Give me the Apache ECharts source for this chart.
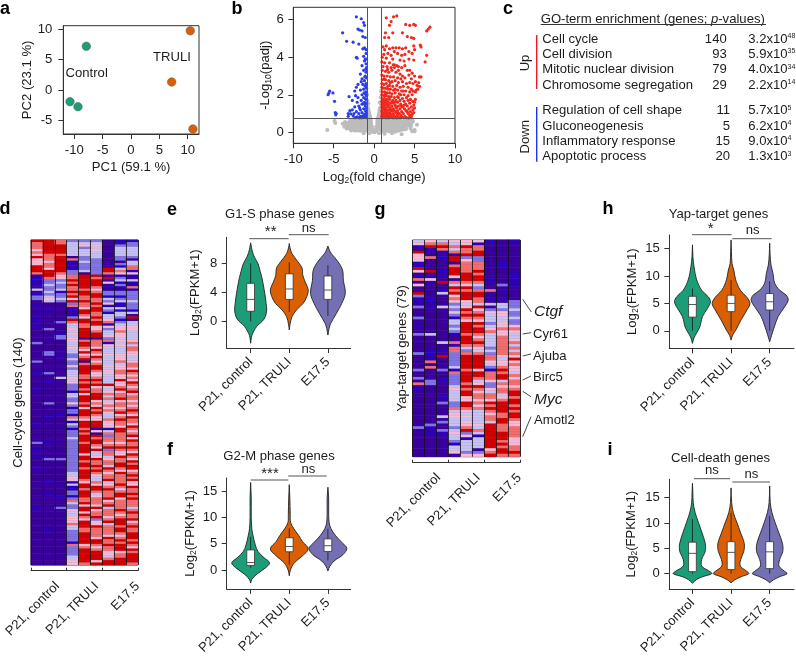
<!DOCTYPE html>
<html><head><meta charset="utf-8">
<style>html,body{margin:0;padding:0;background:#fff}#c{width:796px;height:657px}</style>
<script src="https://cdn.jsdelivr.net/npm/echarts@6/dist/echarts.min.js"></script>
</head><body><div id="c"></div>
<script>
const pcaControl=[[-7.88,7.2],[-10.76,-1.92],[-9.35,-2.75]];
const pcaTruli=[[10.46,9.77],[7.18,1.32],[10.93,-6.43]];

const volcanoUp=[[1.5,6.1],[2.4,6.15],[2.8,6.2],[2.1,5.9],[1.9,5.7],[3.9,5.75],[4.4,5.7],[4.9,5.75],[5.1,5.7],[6.9,5.6],[6.7,5.5],[6.5,5.4],[1.4,5.3],[2.3,5.3],[1.8,5.05],[1.3,5.05],[3.5,5.3],[4.1,5.1],[4.6,5.05],[4.9,5.0],[5.7,4.65],[5.8,4.55],[4.9,4.6],[5.0,4.4],[1.5,4.6],[1.1,4.55],[1.3,4.4],[1.9,4.45],[2.3,4.5],[2.7,4.5],[3.1,4.5],[3.5,4.45],[3.9,4.5],[4.3,4.3],[2.5,4.3],[1.7,4.2],[1.2,4.15],[2.1,4.1],[2.9,4.2],[3.4,4.1],[3.8,4.15],[4.7,4.2],[6.5,4.1],[6.3,3.75],[4.9,3.85],[1.0,4.0],[1.5,3.95],[2.3,3.9],[3.2,3.85],[3.7,3.8],[4.3,3.9],[0.95,3.75],[1.3,3.7],[1.9,3.7],[2.5,3.6],[2.8,3.55],[3.0,3.5],[3.4,3.45],[1.1,3.5],[1.6,3.5],[2.1,3.45],[2.5,3.45],[3.8,3.55],[4.1,3.3],[4.4,3.3],[4.7,3.15],[5.8,2.95],[5.6,2.95],[1.0,3.3],[1.4,3.25],[1.8,3.2],[2.2,3.3],[2.7,3.2],[3.2,3.1],[3.5,3.0],[4.3,3.05],[5.0,3.0],[0.95,3.05],[1.2,3.0],[1.6,3.0],[2.0,2.95],[2.4,2.95],[2.9,2.9],[3.3,2.85],[3.8,2.9],[4.6,2.85],[5.1,2.7],[5.5,2.65],[1.0,2.8],[1.4,2.8],[1.8,2.75],[2.2,2.7],[2.6,2.75],[3.0,2.65],[3.5,2.7],[4.0,2.6],[4.4,2.65],[4.8,2.6],[5.3,2.5],[5.6,2.45],[0.95,2.6],[1.2,2.55],[1.5,2.6],[1.9,2.5],[2.3,2.45],[2.8,2.5],[3.2,2.4],[3.6,2.45],[4.2,2.4],[4.6,2.3],[5.4,2.3],[5.2,2.25],[0.95,2.4],[1.1,2.35],[1.4,2.35],[1.7,2.3],[2.0,2.3],[2.4,2.25],[2.9,2.25],[3.4,2.2],[3.9,2.2],[4.4,2.15],[4.8,2.2],[5.1,2.15],[1.0,2.15],[1.3,2.15],[1.6,2.1],[1.9,2.1],[2.2,2.05],[2.6,2.1],[3.1,2.05],[3.3,2.0],[3.7,2.0],[4.2,1.95],[4.7,2.0],[0.95,2.0],[1.2,1.95],[1.5,1.95],[1.8,1.9],[2.1,1.9],[2.5,1.85],[2.9,1.9],[3.5,1.8],[4.0,1.85],[4.5,1.75],[5.1,1.75],[1.0,1.8],[1.3,1.8],[1.6,1.75],[1.9,1.75],[2.3,1.7],[2.7,1.7],[3.2,1.7],[3.7,1.65],[4.2,1.7],[4.8,1.65],[5.0,1.6],[0.95,1.65],[1.15,1.6],[1.45,1.65],[1.75,1.6],[2.05,1.55],[2.4,1.55],[2.9,1.6],[3.3,1.5],[3.9,1.5],[4.4,1.55],[4.9,1.45],[1.0,1.5],[1.25,1.45],[1.55,1.5],[1.85,1.45],[2.2,1.4],[2.6,1.45],[3.0,1.4],[3.5,1.35],[4.1,1.4],[4.6,1.35],[5.0,1.3],[0.95,1.35],[1.15,1.35],[1.4,1.3],[1.7,1.35],[2.0,1.3],[2.35,1.25],[2.75,1.3],[3.2,1.25],[3.75,1.25],[4.3,1.25],[4.8,1.2],[1.0,1.2],[1.3,1.2],[1.55,1.2],[1.85,1.2],[2.15,1.15],[2.5,1.15],[2.9,1.15],[3.4,1.1],[3.95,1.15],[4.5,1.1],[4.9,1.05],[0.95,1.1],[1.15,1.05],[1.4,1.1],[1.65,1.05],[1.95,1.05],[2.3,1.0],[2.65,1.05],[3.1,1.0],[3.6,1.0],[4.2,1.0],[4.7,0.95],[1.0,0.95],[1.25,0.95],[1.5,0.95],[1.8,0.95],[2.1,0.9],[2.45,0.9],[2.85,0.9],[3.3,0.9],[3.8,0.85],[4.4,0.9],[4.6,0.82],[0.95,0.85],[1.15,0.85],[1.35,0.82],[1.6,0.85],[1.9,0.82],[2.2,0.8],[2.6,0.8],[3.0,0.8],[3.5,0.8],[4.0,0.78],[1.05,0.78],[1.45,0.77],[1.75,0.77],[2.35,0.77],[2.8,0.77],[3.2,0.77],[4.3,0.77],[1.2,1.7],[1.4,2.05],[1.7,2.45],[2.0,2.65],[2.6,2.3],[1.25,2.85],[3.0,3.3],[1.65,3.35],[2.35,3.6],[2.0,1.2],[1.5,1.45],[1.1,1.25],[1.3,1.0],[1.7,0.9],[2.5,1.6],[3.0,1.85],[3.6,2.2],[2.2,1.6],[1.35,1.55],[1.6,1.15],[2.9,1.05],[3.35,1.4],[1.9,1.0],[2.7,1.35],[4.1,1.1],[3.7,1.45]];

const volcanoDown=[[-5.5,2.2],[-5.6,2.1],[-5.7,2.0],[-5.1,2.1],[-4.9,1.65],[-4.8,1.05],[-4.7,1.0],[-4.75,0.93],[-3.9,5.3],[-3.4,4.85],[-2.6,4.8],[-2.2,6.15],[-1.6,6.05],[-1.3,5.85],[-1.2,5.7],[-2.0,5.5],[-1.8,5.45],[-1.5,5.4],[-1.4,5.1],[-1.1,5.05],[-1.9,4.7],[-1.2,4.5],[-1.0,4.4],[-1.4,4.45],[-1.0,4.2],[-2.2,4.0],[-2.1,3.95],[-1.3,4.05],[-0.95,3.9],[-1.2,3.8],[-1.0,3.65],[-1.5,3.55],[-0.95,3.45],[-1.3,3.3],[-1.0,3.2],[-1.1,3.0],[-1.7,3.1],[-0.95,2.9],[-1.5,2.85],[-1.2,2.75],[-1.0,2.6],[-2.0,2.55],[-1.4,2.55],[-1.1,2.45],[-0.95,2.35],[-2.2,2.4],[-1.7,2.25],[-1.3,2.3],[-1.0,2.15],[-2.4,2.2],[-1.1,2.05],[-1.5,2.0],[-0.95,1.95],[-2.3,1.95],[-3.1,1.9],[-2.0,1.85],[-1.3,1.85],[-1.0,1.75],[-1.6,1.7],[-2.7,1.7],[-1.2,1.6],[-2.1,1.6],[-0.95,1.55],[-1.5,1.5],[-1.1,1.4],[-1.9,1.4],[-2.4,1.35],[-0.95,1.3],[-1.3,1.25],[-1.7,1.2],[-2.7,1.2],[-1.05,1.15],[-2.2,1.1],[-3.0,1.15],[-1.5,1.05],[-0.95,1.0],[-1.2,0.95],[-1.9,1.0],[-2.5,1.0],[-3.2,1.0],[-2.9,0.98],[-1.4,0.88],[-1.7,0.85],[-1.0,0.85],[-2.1,0.82],[-2.6,0.88],[-3.2,0.85],[-1.25,0.8],[-0.95,0.78],[-1.55,0.77],[-1.85,0.77],[-2.35,0.78],[-1.15,1.5],[-1.0,1.1],[-1.3,1.55],[-1.1,1.8],[-1.25,2.1],[-1.05,2.5],[-1.15,2.95],[-1.05,3.35],[-1.1,3.9],[-1.6,2.7],[-1.8,1.3]];

const volcanoOther=[[-5.8,0.12],[-4.9,0.6],[-4.8,0.5],[-3.9,0.45],[-3.6,0.55],[-3.2,0.35],[-3.4,0.2],[-3.0,0.6],[-2.9,0.45],[-2.7,0.3],[-2.6,0.15],[-2.8,0.65],[-2.5,0.55],[-2.4,0.4],[-2.3,0.25],[-2.2,0.1],[-2.3,0.68],[-2.1,0.55],[-2.0,0.45],[-2.0,0.3],[-1.9,0.15],[-1.9,0.65],[-1.8,0.55],[-1.7,0.4],[-1.7,0.25],[-1.6,0.1],[-1.6,0.68],[-1.5,0.58],[-1.5,0.45],[-1.4,0.32],[-1.4,0.18],[-1.35,0.65],[-1.3,0.52],[-1.25,0.4],[-1.2,0.26],[-1.2,0.12],[-1.15,0.68],[-1.1,0.58],[-1.05,0.46],[-1.0,0.34],[-1.0,0.2],[-0.95,0.08],[-0.92,0.7],[-0.88,0.55],[-0.85,0.42],[-0.82,0.28],[-0.78,0.15],[-0.88,0.95],[-0.85,1.2],[-0.87,1.45],[-0.84,1.7],[-0.86,2.0],[-0.8,0.82],[-0.76,1.05],[-0.75,1.3],[-0.72,1.55],[-0.74,0.6],[-0.7,0.45],[-0.68,0.3],[-0.65,0.18],[-0.68,0.85],[-0.65,1.1],[-0.62,0.7],[-0.6,0.52],[-0.58,0.36],[-0.55,0.22],[-0.56,0.9],[-0.5,0.6],[-0.48,0.42],[-0.45,0.28],[-0.42,0.15],[-0.44,0.72],[-0.38,0.48],[-0.35,0.32],[-0.3,0.18],[-0.28,0.08],[-0.26,0.3],[-0.2,0.05],[-0.14,0.03],[-0.05,0.02],[0.05,0.02],[0.14,0.04],[0.2,0.06],[0.26,0.28],[0.28,0.1],[0.3,0.2],[0.35,0.35],[0.38,0.5],[0.42,0.16],[0.44,0.7],[0.45,0.3],[0.48,0.44],[0.5,0.62],[0.55,0.24],[0.56,0.92],[0.58,0.38],[0.6,0.55],[0.62,0.72],[0.65,0.18],[0.65,1.15],[0.68,0.32],[0.68,0.88],[0.7,0.48],[0.72,1.6],[0.75,0.62],[0.76,1.3],[0.78,1.05],[0.8,0.82],[0.8,0.15],[0.82,0.3],[0.84,1.85],[0.85,0.44],[0.86,1.5],[0.87,2.2],[0.88,0.58],[0.88,1.1],[0.92,0.7],[0.95,0.08],[1.0,0.22],[1.0,0.36],[1.05,0.48],[1.1,0.6],[1.15,0.7],[1.2,0.12],[1.2,0.28],[1.25,0.42],[1.3,0.54],[1.35,0.66],[1.4,0.18],[1.4,0.34],[1.5,0.46],[1.5,0.6],[1.6,0.72],[1.6,0.1],[1.7,0.26],[1.7,0.42],[1.8,0.56],[1.9,0.68],[1.9,0.15],[2.0,0.32],[2.0,0.48],[2.1,0.6],[2.2,0.1],[2.3,0.25],[2.3,0.42],[2.4,0.55],[2.5,0.7],[2.6,0.15],[2.7,0.32],[2.7,0.5],[2.8,0.62],[3.0,0.25],[3.0,0.42],[3.1,0.55],[3.2,0.7],[3.3,0.12],[3.5,0.35],[3.5,0.52],[3.7,0.62],[3.8,0.28],[3.9,0.45],[4.0,0.68],[4.2,0.35],[4.3,0.55],[4.5,0.2],[4.6,0.48],[4.8,0.58],[5.0,0.12],[5.0,0.05],[5.3,0.4],[4.7,0.05],[3.4,-0.1],[0.6,-0.05],[-0.6,-0.05],[1.3,-0.08],[-1.3,-0.05],[2.2,-0.05],
[-3.3,0.5],[-3.1,0.2],[-2.95,0.3],[-2.75,0.5],[-2.55,0.38],[-2.45,0.62],[-2.6,0.7],[-2.15,0.4],[-2.2,0.68],[-2.05,0.18],[-1.85,0.35],[-1.75,0.6],[-1.55,0.3],[-1.65,0.5],[-1.3,0.1],[-1.1,0.3],[-1.1,0.15],[-0.9,0.35],[-0.9,0.22],[-0.75,0.72],[-0.7,0.2],[-0.6,0.28],[-0.8,1.5],[-0.7,1.2],[-0.6,1.0],[-0.5,0.8],[-0.4,0.62],[-0.35,0.2],[-0.22,0.14],[-0.1,0.05],[0.1,0.05],[0.22,0.16],[0.35,0.24],[0.4,0.62],[0.5,0.8],[0.6,1.0],[0.7,1.25],[0.8,1.55],[0.75,0.2],[0.9,0.2],[0.9,0.35],[1.1,0.15],[1.1,0.3],[1.15,0.45],[1.3,0.1],[1.3,0.25],[1.45,0.1],[1.45,0.55],[1.55,0.3],[1.65,0.55],[1.75,0.15],[1.85,0.32],[1.95,0.55],[2.05,0.2],[2.15,0.38],[2.2,0.68],[2.4,0.15],[2.4,0.33],[2.55,0.45],[2.6,0.6],[2.85,0.2],[2.85,0.42],[2.95,0.68],[3.15,0.2],[3.2,0.38],[3.35,0.55],[3.45,0.22],[3.6,0.42],[3.65,0.15],[3.85,0.6],[3.95,0.18],[4.05,0.38],[4.15,0.55],[4.4,0.45],[4.4,0.68],[4.55,0.33],[4.7,0.65],[-3.5,0.38],[-3.7,0.3],[-2.4,0.1],[-2.85,0.1],[-1.8,0.08],[1.0,0.05],[1.85,0.05],[2.6,0.03],[3.0,0.08],[-0.95,0.5],[-0.95,0.62],[0.95,0.5],[0.95,0.62]];

const heatD=[
"6555454644"+"4666501101"+"0301220010"+"0010100100"+"0000200000"+"0020000100"+"0000100000"+"0000000001"+"0000000200"+"1001000010"+"0000000000"+"0000010000"+"0000000000"+"0000000000",
"6666665554"+"5546665223"+"2232343000"+"1000000020"+"0000000022"+"0000000200"+"0100000000"+"2000001000"+"0000000100"+"0000200000"+"0000100001"+"0000000000"+"0000010000"+"0000000000",
"5566665666"+"6666544232"+"2312232000"+"0000020000"+"1220000000"+"1000000003"+"0000000000"+"0000010000"+"0000000000"+"0000200000"+"0000000000"+"1000020000"+"0000000000"+"0000000000",
"2333333051"+"1012255656"+"5565646251"+"1012653343"+"4344334332"+"2322423334"+"3422213322"+"4212215313"+"2122232222"+"2222222222"+"3344131122"+"1253224334"+"4453322222"+"1522223344",
"2342333223"+"2223066666"+"6566556554"+"6654665566"+"6605665464"+"5605666655"+"6566564666"+"5646665466"+"6565666566"+"6646656656"+"6665466566"+"6556466465"+"4666556666"+"6456666665",
"2343433322"+"2222265666"+"5456655656"+"6556566445"+"6605554654"+"6545665445"+"6564556664"+"5465654466"+"6140656654"+"6334655656"+"5433546653"+"4555464556"+"2446555546"+"6545666646",
"0000000000"+"0066516140"+"1022132413"+"2133451423"+"3425143334"+"3333434433"+"3364345353"+"4545433544"+"4135255456"+"2553455365"+"4556345655"+"5645635554"+"5635555465"+"5655443566",
"1123333220"+"2135412312"+"1022123113"+"1332123445"+"4434343334"+"4453445544"+"6445645564"+"5545645655"+"4665555456"+"5446556654"+"6555565456"+"6455556545"+"6665665456"+"5666455666",
"1223333203"+"3551410301"+"5122223222"+"1306033443"+"3334535544"+"3345546545"+"4654564554"+"5456546554"+"6545646556"+"5465465664"+"5656446556"+"5655535655"+"6456556665"+"6546566665"];

const heatG=[
"3410644411"+"6401504006"+"2010200020"+"0100200000"+"0200000200"+"2050100000"+"0000000020"+"0000000000",
"4561005000"+"0601410000"+"0110100000"+"0000300000"+"1101505000"+"0220000000"+"0000000210"+"1000000000",
"3565101000"+"0101060013"+"0000300000"+"0000000300"+"1060000200"+"0100000102"+"0000302002"+"1000000000",
"4353506605"+"6664053656"+"4542324213"+"3232100515"+"5222223152"+"2223433332"+"2534433323"+"4332133404",
"4465562455"+"5566654656"+"6643465654"+"6666566653"+"2566666566"+"6656566446"+"6543434456"+"2413333244",
"4155662255"+"5656653256"+"6553645654"+"6566545654"+"3566666466"+"5346545545"+"4533333435"+"3133330244",
"1000000000"+"0000100050"+"0103024333"+"2345333332"+"3255432155"+"5422435546"+"5654553666"+"6666664566",
"0000000011"+"0000002010"+"0103324433"+"4454455555"+"5543445656"+"6354553456"+"6665566555"+"6665656656",
"1000000000"+"0011101000"+"0022232232"+"2454334535"+"3546454435"+"4554566566"+"5656654455"+"5544455656"];

const violinColors=["#1b9e77","#d95f02","#7570b3"];
const violinE=[
[[-3.05,0],[-2.2,.02],[-1.7,.05],[-1,.12],[-.5,.19],[0,.3],[.65,.38],[1.6,.415],[2.5,.4],[3.4,.38],[4.4,.35],[5.3,.32],[6.1,.29],[6.9,.25],[8,.19],[8.9,.1],[9.6,.05],[10.3,.02],[10.9,0]],
[[-1.2,0],[-.4,.02],[.65,.07],[1.6,.19],[2.5,.36],[3.4,.45],[4.35,.49],[5.5,.41],[6.4,.35],[7.4,.33],[8.3,.22],[9.4,.07],[10.2,.02],[10.8,0]],
[[-1.9,0],[-1,.03],[-.3,.07],[1.1,.22],[2.5,.36],[3.9,.45],[5.7,.4],[7.1,.38],[8.3,.26],[9.4,.09],[10,.03],[10.45,0]]];
const boxE=[[0,1.4,3.05,5.28,8.05],[1.3,3.05,4.5,6.6,8.2],[.75,3.05,4.35,6.3,7.8]];
const violinF=[
[[-2.5,0],[-1.8,.03],[-.8,.16],[.43,.39],[1.35,.49],[2.3,.35],[3.5,.19],[4.75,.12],[6.6,.06],[7.8,.03],[10,.015],[13.7,.015],[16.6,0]],
[[-1.1,0],[0,.03],[1.35,.13],[2.6,.33],[4,.49],[5.4,.34],[6.6,.24],[7.8,.12],[9,.035],[10.5,.025],[13.5,.015],[16.2,0]],
[[-.2,0],[.7,.05],[1.7,.16],[2.9,.39],[4.1,.49],[5,.39],[6,.26],[7.2,.13],[8.5,.045],[10.5,.02],[13.5,.02],[15.7,0]]];
const boxF=[[.4,.86,1.4,3.8,6.3],[1,3.45,4.45,6.1,7.9],[1.8,3.5,4.6,5.9,7.8]];
const violinH=[
[[-2.3,0],[-1.3,.04],[-.5,.1],[.7,.19],[2.6,.26],[4.1,.39],[5.3,.465],[6.2,.41],[7.4,.24],[9.3,.11],[11.7,.04],[13.5,.012],[15.7,0]],
[[-1.7,0],[-.8,.04],[.1,.12],[2,.26],[3.8,.41],[5,.49],[6.2,.4],[7.4,.24],[9.3,.12],[11.1,.07],[12.3,.025],[14.5,.01],[16.6,0]],
[[-2,0],[-.8,.05],[.7,.12],[2.6,.22],[4.4,.39],[5.6,.48],[6.5,.43],[7.4,.26],[8.7,.13],[10.5,.085],[12,.035],[14,.01],[16,0]]];
const boxH=[[0,2.5,4.8,6.3,7.7],[0,3.5,5,6.5,9.3],[0,3.8,5.3,6.8,9]];
const violinI=[
[[-1.9,0],[-1.2,.1],[-.6,.26],[0,.5],[.5,.43],[1.5,.24],[2.8,.24],[4.4,.33],[6,.33],[8.2,.24],[10.1,.155],[12,.07],[14,.02],[16,.01],[17.8,0]],
[[-1.8,0],[-1.2,.1],[-.6,.26],[0,.46],[.5,.4],[1.5,.24],[2.8,.25],[4.4,.33],[6,.34],[8.2,.24],[10.1,.15],[12,.06],[14,.015],[16.9,0]],
[[-1.8,0],[-1.2,.1],[-.6,.26],[0,.45],[.5,.38],[1.5,.24],[2.8,.26],[4.4,.34],[6,.33],[8.2,.23],[10.1,.14],[12,.06],[14,.015],[17.3,0]]];
const boxI=[[0,.4,4,6.2,10.8],[0,.8,4.2,6.3,12],[0,1,4.3,6.3,11.4]];

const groupLabels=["P21, control","P21, TRULI","E17.5"];
const goTerms=["Cell cycle","Cell division","Mitotic nuclear division","Chromosome segregation","Regulation of cell shape","Gluconeogenesis","Inflammatory response","Apoptotic process"];
const goCounts=["140","93","79","29","11","5","15","20"];
const goMant=["3.2","5.9","4.0","2.2","5.7","6.2","9.0","1.3"];
const goExp=["48","35","34","14","5","4","4","3"];

const FONT='"Liberation Sans",Arial,sans-serif', INK='#1c1c1c', AX='#333';
const FS=13.1;
const axisLineS={show:true,onZero:false,lineStyle:{color:AX,width:1}};
const tick=(vals)=>({show:true,length:5,lineStyle:{color:AX,width:1},customValues:vals});
const lab=(vals,extra)=>Object.assign({show:true,color:INK,fontFamily:FONT,fontSize:FS,margin:9.5,customValues:vals},extra||{});
const grids=[],xAxes=[],yAxes=[],series=[],gfx=[];
function addGrid(box,xa,ya){grids.push({left:box[0],top:box[1],width:box[2]-box[0],height:box[3]-box[1],show:!!box[4],borderColor:AX,borderWidth:1,backgroundColor:'transparent'});
  const g=grids.length-1;xAxes.push(Object.assign({gridIndex:g,splitLine:{show:false}},xa));yAxes.push(Object.assign({gridIndex:g,splitLine:{show:false}},ya));return g;}
const T=(x,y,text,o)=>{o=o||{};gfx.push({type:'text',x,y,rotation:o.rot||0,silent:true,z:50,style:{text,fill:o.fill||INK,font:(o.style||'')+' '+(o.weight||'')+' '+(o.size||FS)+'px '+FONT,align:o.align||'center',verticalAlign:'middle',rich:o.rich}});};
const L=(x1,y1,x2,y2,c,w)=>gfx.push({type:'line',silent:true,z:50,shape:{x1,y1,x2,y2},style:{stroke:c||'#555',lineWidth:w||1}});

// a PCA
let g=addGrid([63.3,25.7,199,134,1],
 {type:'value',min:-11.94,max:12,name:'PC1 (59.1 %)',nameLocation:'middle',nameGap:27,nameTextStyle:{color:INK,fontFamily:FONT,fontSize:FS},axisLine:axisLineS,axisTick:tick([-10,-5,0,5,10]),axisLabel:lab([-10,-5,0,5,10])},
 {type:'value',min:-7.25,max:10.6,name:'PC2 (23.1 %)',nameLocation:'middle',nameGap:29,nameMoveOverlap:false,nameTextStyle:{color:INK,fontFamily:FONT,fontSize:FS},axisLine:axisLineS,axisTick:tick([-5,0,5,10]),axisLabel:lab([-5,0,5,10],{margin:11})});
[[pcaControl,violinColors[0]],[pcaTruli,violinColors[1]]].forEach(p=>series.push({type:'scatter',xAxisIndex:g,yAxisIndex:g,data:p[0],symbolSize:8.5,itemStyle:{color:p[1],borderColor:'#666',borderWidth:.6,opacity:1},silent:true}));
T(86.7,73.7,'Control');T(172,57.3,'TRULI');

// b volcano
const rich2={s:{fontSize:8.5,verticalAlign:'bottom',fontFamily:FONT,color:INK,padding:[6,0,0,0]},b:{fontSize:FS,fontFamily:FONT,color:INK}};
g=addGrid([293.3,7.3,455,143.3,1],
 {type:'value',min:-10,max:10,name:'{b|Log}{s|2}{b|(fold change)}',nameLocation:'middle',nameGap:27,nameMoveOverlap:false,nameTextStyle:{rich:rich2,color:INK,fontFamily:FONT,fontSize:FS},axisLine:axisLineS,axisTick:tick([-10,-5,0,5,10]),axisLabel:lab([-10,-5,0,5,10])},
 {type:'value',min:-.586,max:6.66,name:'{b|-Log}{s|10}{b|(padj)}',nameLocation:'middle',nameGap:20,nameMoveOverlap:false,nameTextStyle:{rich:rich2,color:INK,fontFamily:FONT,fontSize:FS},axisLine:axisLineS,axisTick:tick([0,2,4,6]),axisLabel:lab([0,2,4,6])});
[[volcanoOther,'#bcbcbc'],[volcanoDown,'#2a3fe8'],[volcanoUp,'#f0291e']].forEach((p,i)=>series.push({type:'scatter',xAxisIndex:g,yAxisIndex:g,data:p[0],symbolSize:i==0?4:3.2,itemStyle:{color:p[1],opacity:1},silent:true,z:2+i}));
series.push({type:'scatter',xAxisIndex:g,yAxisIndex:g,data:[],z:6,silent:true,markLine:{silent:true,symbol:'none',animation:false,label:{show:false},lineStyle:{color:'#555',width:1,type:'solid'},data:[{xAxis:-.9},{xAxis:.9},{yAxis:.746}]}});

// heatmaps
function heat(box,cols,nRows,yName,nameGap,tickGrid,labelAt,margin){
  const rows=[];for(let i=0;i<nRows;i++)rows.push(i);
  const g=addGrid([box[0],box[1],box[2],box[3],1],
   {type:'category',data:[0,1,2,3,4,5,6,7,8],z:6,axisLine:{show:false},axisTick:{show:false},axisLabel:{show:false},splitLine:{show:true,interval:0,lineStyle:{color:'#111',width:.8}}},
   {type:'category',data:rows,inverse:true,axisLine:{show:false},axisTick:{show:false},axisLabel:{show:false},name:yName,nameLocation:'middle',nameGap,nameTextStyle:{color:INK,fontFamily:FONT,fontSize:FS}});
  const data=[];cols.forEach((s,c)=>{for(let r=0;r<s.length&&r<nRows;r++)data.push([c,r,+s[r]]);});
  series.push({type:'heatmap',xAxisIndex:g,yAxisIndex:g,data,silent:true,progressive:0,itemStyle:{borderColor:'rgba(40,0,60,.18)',borderWidth:.4}});
  addGrid([box[0],box[3]+1,box[2],tickGrid,0],
   {type:'value',min:0,max:3,axisLine:axisLineS,axisTick:{show:true,inside:true,length:3,lineStyle:{color:AX},customValues:[0,1,2,3]},
    axisLabel:lab(labelAt,{rotate:45,margin,formatter:v=>groupLabels[v<1?0:v<2?1:2]})},
   {type:'value',show:false,min:0,max:1});
  return series.length-1;
}
const hd=heat([31,240,138,565],heatD,140,'Cell-cycle genes (140)',6,570.7,[.74,1.84,2.99],13.5);
const hg=heat([412.7,240,520,456.7],heatG,79,'Yap-target genes (79)',4,462.7,[.72,1.83,2.98],13);

// violins
function violin(box,xr,yr,yt,profiles,boxes,nameGap){
  const rich={s:{fontSize:8.5,verticalAlign:'bottom',fontFamily:FONT,color:INK,padding:[6,0,0,0]},b:{fontSize:FS,fontFamily:FONT,color:INK}};
  const g=addGrid(box,
   {type:'value',min:xr[0],max:xr[1],axisLine:axisLineS,axisTick:tick([0,1,2]),axisLabel:lab([0,1,2],{rotate:45,margin:12,formatter:v=>groupLabels[v]})},
   {type:'value',min:yr[0],max:yr[1],name:'{b|Log}{s|2}{b|(FPKM+1)}',nameLocation:'middle',nameGap,nameMoveOverlap:false,nameTextStyle:{rich,color:INK,fontFamily:FONT,fontSize:FS},axisLine:axisLineS,axisTick:tick(yt),axisLabel:lab(yt)});
  series.push({type:'custom',xAxisIndex:g,yAxisIndex:g,silent:true,clip:false,data:[[0,0],[1,0],[2,0]],encode:{x:0,y:1},
   renderItem(params,api){
     const i=params.dataIndex,p=profiles[i],b=boxes[i],pts=[];
     p.forEach(q=>pts.push(api.coord([i+q[1],q[0]])));
     p.slice().reverse().forEach(q=>pts.push(api.coord([i-q[1],q[0]])));
     const a=api.coord([i-.1,b[3]]),c=api.coord([i+.1,b[1]]),lo=api.coord([i,b[0]]),hi=api.coord([i,b[4]]),mL=api.coord([i-.1,b[2]]),mR=api.coord([i+.1,b[2]]);
     const ink={stroke:'#222',lineWidth:.9,fill:null};
     return {type:'group',children:[
      {type:'polygon',shape:{points:pts,smooth:.35},style:{fill:violinColors[i],stroke:'#222',lineWidth:.9}},
      {type:'line',shape:{x1:lo[0],y1:lo[1],x2:hi[0],y2:hi[1]},style:ink},
      {type:'rect',shape:{x:a[0],y:a[1],width:c[0]-a[0],height:c[1]-a[1]},style:{fill:'#fff',stroke:'#333',lineWidth:.8}},
      {type:'line',shape:{x1:mL[0],y1:mL[1],x2:mR[0],y2:mR[1]},style:{stroke:'#444',lineWidth:.9}}
     ]};
   }});
}
violin([226.7,237.3,350.7,348],[-.62,2.59],[-3.7,11.67],[0,4,8],violinE,boxE,24);
violin([226.7,478,350.7,591.7],[-.62,2.59],[-3.6,17.46],[0,5,10,15],violinF,boxF,28.7);
violin([669.3,235,794,348.3],[-.6,2.63],[-3.2,17.5],[0,5,10,15],violinH,boxH,29.5);
violin([669.3,479.3,794,591.7],[-.6,2.63],[-3,18.6],[0,5,10,15],violinI,boxI,30.5);

// violin annotations
T(279.7,214,'G1-S phase genes');T(270.7,232,'**',{size:15});L(249.3,238.7,288.7,238.7);T(308.7,228,'ns');L(288.7,234.7,328.7,234.7);
T(279,456.7,'G2-M phase genes');T(270,474,'***',{size:15});L(250.7,480,288.3,480);T(308.3,469.3,'ns');L(288.3,476,326.7,476);
T(718.5,214.3,'Yap-target genes');T(710.7,229,'*',{size:15});L(692,234.7,731.7,234.7);T(752.7,230,'ns');L(732.3,238.7,771.7,238.7);
T(720.5,458,'Cell-death genes');T(712,470,'ns');L(694,478.7,730,478.7);T(751.3,474,'ns');L(732.3,482,770,482);

// c GO table
T(540.7,19,'GO-term enrichment (genes; {i|p}-values)',{align:'left',rich:{i:{fontStyle:'italic',fontFamily:FONT,fontSize:FS}}});
L(540.7,24.5,766,24.5,'#333');
const goY=[39.3,54.3,69.7,85,110.7,126,141.3,156.7];
goTerms.forEach((t,i)=>{
  T(542.3,goY[i],t,{align:'left'});
  T(i<4?726.7:730,goY[i],goCounts[i],{align:'right'});
  T(748.3,goY[i],goMant[i]+'x10{s|'+goExp[i]+'}',{align:'left',rich:{s:{fontSize:7,fontFamily:FONT,verticalAlign:'top',fill:INK}}});
});
L(536.7,35,536.7,89,'#ee1c25',1.4);L(536.7,107,536.7,161.7,'#2233ee',1.4);
T(525,63,'Up',{rot:Math.PI/2});T(525,136.7,'Down',{rot:Math.PI/2});

// g gene labels
[[534,311.7,'Ctgf',1,522.7,299.3,531.3,312],[533,334,'Cyr61',0,522.7,334,531,332.7],[533,356,'Ajuba',0,522.7,356,531,354],[533,377.7,'Birc5',0,522.7,380,531,376],[534,399.3,'Myc',1,522.7,391.3,531,396.7],[534,420,'Amotl2',0,522.7,436.7,531,416.7]].forEach(a=>{
  T(a[0],a[1],a[2],{align:'left',style:a[3]?'italic':'',size:a[3]?15.5:FS});L(a[4],a[5],a[6],a[7],'#333',.9);});

// panel letters
[['a',5,9],['b',237,9],['c',508,9],['d',5,209],['e',172,210],['f',170,450],['g',380,210],['h',608,209],['i',610,450]].forEach(a=>T(a[1],a[2],a[0],{weight:'bold',size:18,fill:'#000'}));

const chart=echarts.init(document.getElementById('c'),null,{renderer:'canvas'});
chart.setOption({animation:false,backgroundColor:'#fff',grid:grids,xAxis:xAxes,yAxis:yAxes,series,graphic:{elements:gfx},
 visualMap:{show:false,type:'continuous',seriesIndex:[hd,hg],min:0,max:6,inRange:{color:['#3a009e','#2a00c8','#8275e6','#c8c4f5','#f9bcd8','#f56e6e','#d40000']}}});
</script></body></html>
